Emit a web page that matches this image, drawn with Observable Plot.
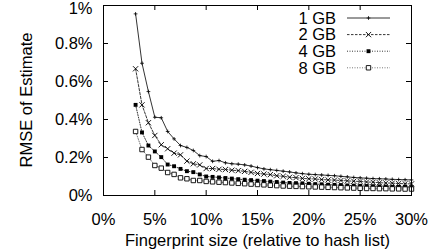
<!DOCTYPE html>
<html>
<head>
<meta charset="utf-8">
<script src="https://cdn.jsdelivr.net/npm/d3@7"></script>
<script src="https://cdn.jsdelivr.net/npm/@observablehq/plot@0.6"></script>
<style>
  html, body { margin: 0; padding: 0; background: #fff; }
  #chart svg { display: block; }
</style>
</head>
<body>
<div id="chart"></div>
<script>
// Fingerprint size (% of hash list)
const fpSize = [3.125, 3.75, 4.375, 5, 5.625, 6.25, 6.875, 7.5, 8.125, 8.75, 9.375, 10,
  10.625, 11.25, 11.875, 12.5, 13.125, 13.75, 14.375, 15, 15.625, 16.25, 16.875, 17.5,
  18.125, 18.75, 19.375, 20, 20.625, 21.25, 21.875, 22.5, 23.125, 23.75, 24.375, 25,
  25.625, 26.25, 26.875, 27.5, 28.125, 28.75, 29.375, 30];

const seriesNames = ["1 GB", "2 GB", "4 GB", "8 GB"];

// RMSE of estimate (%)
const rmse1GB = [0.956, 0.696, 0.547, 0.412, 0.409, 0.337, 0.298, 0.263, 0.253, 0.237, 0.210, 0.205,
  0.180, 0.184, 0.172, 0.167, 0.165, 0.161, 0.155, 0.147, 0.140, 0.136, 0.132, 0.128,
  0.124, 0.119, 0.115, 0.112, 0.110, 0.108, 0.106, 0.104, 0.101, 0.098, 0.095, 0.093,
  0.091, 0.089, 0.088, 0.087, 0.085, 0.084, 0.083, 0.082];
const rmse2GB = [0.667, 0.477, 0.383, 0.316, 0.267, 0.246, 0.223, 0.214, 0.181, 0.167, 0.161, 0.142,
  0.142, 0.138, 0.137, 0.133, 0.131, 0.127, 0.122, 0.116, 0.113, 0.110, 0.104, 0.101,
  0.096, 0.094, 0.090, 0.088, 0.087, 0.084, 0.082, 0.081, 0.079, 0.077, 0.075, 0.074,
  0.071, 0.070, 0.067, 0.066, 0.065, 0.063, 0.062, 0.061];
const rmse4GB = [0.477, 0.332, 0.263, 0.232, 0.202, 0.163, 0.154, 0.140, 0.128, 0.123, 0.111, 0.100,
  0.098, 0.095, 0.092, 0.089, 0.086, 0.083, 0.081, 0.078, 0.076, 0.073, 0.071, 0.068,
  0.066, 0.065, 0.064, 0.062, 0.060, 0.059, 0.057, 0.056, 0.055, 0.053, 0.052, 0.051,
  0.050, 0.049, 0.048, 0.047, 0.046, 0.045, 0.045, 0.044];
const rmse8GB = [0.337, 0.242, 0.202, 0.158, 0.144, 0.121, 0.111, 0.093, 0.088, 0.079, 0.079, 0.074,
  0.072, 0.070, 0.068, 0.066, 0.064, 0.062, 0.060, 0.058, 0.056, 0.054, 0.052, 0.050,
  0.049, 0.048, 0.047, 0.046, 0.045, 0.044, 0.043, 0.042, 0.041, 0.040, 0.039, 0.038,
  0.037, 0.037, 0.036, 0.036, 0.035, 0.035, 0.034, 0.034];

const xTicks = [0, 5, 10, 15, 20, 25, 30];
const yTicks = [0, 0.2, 0.4, 0.6, 0.8, 1];
const xLabel = "Fingerprint size (relative to hash list)";
const yLabel = "RMSE of Estimate";

const allSeries = [rmse1GB, rmse2GB, rmse4GB, rmse8GB];
const rows = [];
allSeries.forEach((vals, s) => vals.forEach((v, i) => rows.push({x: fpSize[i], y: v, series: seriesNames[s]})));
const bySeries = name => rows.filter(d => d.series === name);

const styles = {
  "1 GB": {line: {stroke: "#000", strokeWidth: 0.8}, dot: {symbol: "plus", r: 1.3, stroke: "#000", strokeWidth: 0.8}},
  "2 GB": {line: {stroke: "#000", strokeWidth: 0.8, strokeDasharray: "2.5,1.5"}, dot: {symbol: "times", r: 2.5, stroke: "#000", strokeWidth: 0.9}},
  "4 GB": {line: {stroke: "#000", strokeWidth: 0.8, strokeDasharray: "1,1.5"}, dot: {symbol: "square", r: 2.2, fill: "#000", stroke: "none"}},
  "8 GB": {line: {stroke: "#555", strokeWidth: 0.8, strokeDasharray: "1,1.5"}, dot: {symbol: "square", r: 2.5, fill: "#fff", stroke: "#000", strokeWidth: 0.9}}
};

const W = 433, H = 250;
const mL = 103, mR = 22, mT = 5, mB = 55;
const fw = W - mL - mR, fh = H - mT - mB;
const tick = 5;
const font = "'Liberation Sans', Arial, Helvetica, sans-serif";

const marks = [];
for (const name of seriesNames) {
  marks.push(Plot.line(bySeries(name), {x: "x", y: "y", ...styles[name].line}));
}
for (const name of seriesNames) {
  marks.push(Plot.dot(bySeries(name), {x: "x", y: "y", ...styles[name].dot}));
}
marks.push(
  Plot.tickX(xTicks, {x: d => d, insetTop: fh - tick, stroke: "#000"}),
  Plot.tickX(xTicks, {x: d => d, insetBottom: fh - tick, stroke: "#000"}),
  Plot.tickY(yTicks, {y: d => d, insetRight: fw - tick, stroke: "#000"}),
  Plot.tickY(yTicks, {y: d => d, insetLeft: fw - tick, stroke: "#000"}),
  Plot.frame({stroke: "#000", strokeWidth: 1}),
  Plot.axisX(xTicks, {tickSize: 0, tickPadding: 18, tickFormat: d => d + "%", fontSize: 16.5, label: null}),
  Plot.axisY(yTicks, {tickSize: 0, tickPadding: 11, tickFormat: d => d + "%", fontSize: 16.5, label: null}),
  Plot.text([xLabel], {text: d => d, frameAnchor: "bottom", dy: 45, lineAnchor: "middle", fontSize: 16.5, fill: "#000"})
);

const chart = Plot.plot({
  width: W, height: H,
  marginLeft: mL, marginRight: mR, marginTop: mT, marginBottom: mB,
  x: {domain: [0, 30], axis: null, label: null},
  y: {domain: [0, 1], axis: null, label: null},
  style: {fontFamily: font, fontSize: "16.5px", color: "#000", background: "#fff"},
  marks
});

const svg = d3.select(chart);

// Keep the top tick label ("1%") inside the picture, as in the reference
svg.selectAll("text").filter(function () { return this.textContent === "1%"; })
  .attr("transform", function () { return (this.getAttribute("transform") || "") + " translate(0,3)"; });

// Y axis title
svg.append("text")
  .attr("transform", `translate(26,${mT + fh / 2}) rotate(-90)`)
  .attr("text-anchor", "middle").attr("dy", "0.35em")
  .attr("font-family", font).attr("font-size", 16.5).attr("fill", "#000")
  .text(yLabel);

// Legend inside the top-right of the plot
const leg = svg.append("g").attr("font-family", font).attr("font-size", 16.5);
const symMap = {plus: d3.symbolPlus, times: d3.symbolTimes, square: d3.symbolSquare};
seriesNames.forEach((name, i) => {
  const yy = 18 + i * 16.6;
  const st = styles[name];
  leg.append("text").attr("x", 336).attr("y", yy).attr("text-anchor", "end").attr("dy", "0.35em").attr("fill", "#000").text(name);
  leg.append("line").attr("x1", 347).attr("x2", 390).attr("y1", yy).attr("y2", yy)
    .attr("stroke", st.line.stroke).attr("stroke-width", st.line.strokeWidth)
    .attr("stroke-dasharray", st.line.strokeDasharray || null);
  const r = st.dot.r;
  const sym = d3.symbol(symMap[st.dot.symbol], Math.PI * r * r)();
  leg.append("path").attr("d", sym).attr("transform", `translate(368.5,${yy})`)
    .attr("fill", st.dot.fill || "none").attr("stroke", st.dot.stroke || "none").attr("stroke-width", st.dot.strokeWidth || 1);
});

document.getElementById("chart").appendChild(chart);
</script>
</body>
</html>
